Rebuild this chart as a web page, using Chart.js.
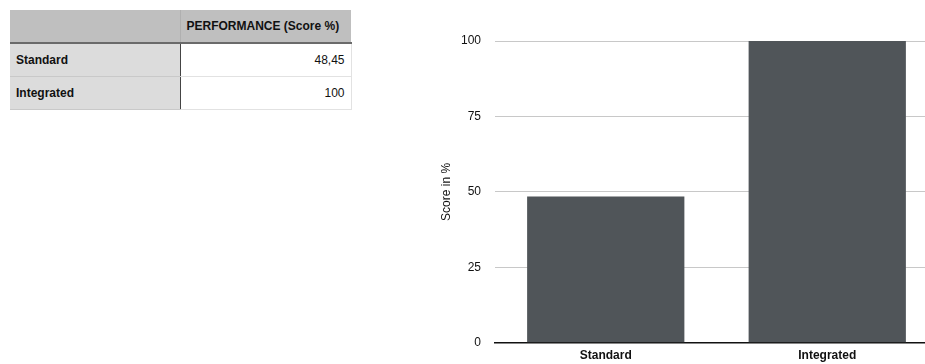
<!DOCTYPE html>
<html>
<head>
<meta charset="utf-8">
<script src="https://cdn.jsdelivr.net/npm/chart.js@4/dist/chart.umd.min.js"></script>
<style>
  html, body { margin: 0; padding: 0; width: 925px; height: 364px; overflow: hidden; background: #fff; }
  body { position: relative; font-family: "Liberation Sans", Arial, sans-serif; font-size: 12px; color: #111; }
  table { position: absolute; left: 10px; top: 10px; border-collapse: collapse; }
  td, th { padding: 0 6px; height: 33px; box-sizing: border-box; }
  th { background: #bfbfbf; font-weight: bold; text-align: left; vertical-align: middle; border-bottom: 2px solid #6a6a6a; }
  th.corner { width: 170px; border-right: 1px solid #b0b0b0; }
  th.head { width: 171px; }
  td.name { background: #dcdcdc; font-weight: bold; border-bottom: 1px solid #c9c9c9; border-right: 1px solid #444; }
  td.val { text-align: right; border-bottom: 1px solid #e2e2e2; border-right: 1px solid #e2e2e2; }
  #c { position: absolute; left: 435px; top: 0; width: 505px; height: 364px; }
</style>
</head>
<body>
<table id="tbl"></table>
<canvas id="c" width="505" height="364"></canvas>
<script>
const categories = ["Standard", "Integrated"];
const scores = [48.45, 100];
const yTicks = [0, 25, 50, 75, 100];
const valueHeader = "PERFORMANCE (Score %)";

// data table
const tbl = document.getElementById("tbl");
let html = '<tr><th class="corner"></th><th class="head">' + valueHeader + '</th></tr>';
categories.forEach((c, i) => {
  html += '<tr><td class="name">' + c + '</td><td class="val">' + String(scores[i]).replace('.', ',') + '</td></tr>';
});
tbl.innerHTML = html;

const font = "'Liberation Sans', Arial, sans-serif";
new Chart(document.getElementById("c"), {
  type: "bar",
  data: {
    labels: categories,
    datasets: [{
      data: scores,
      backgroundColor: "#505559",
      borderWidth: 0,
      barPercentage: 0.71,
      categoryPercentage: 1
    }]
  },
  options: {
    responsive: false,
    animation: false,
    layout: { padding: { top: 41, right: 2, left: 0, bottom: -2 } },
    plugins: { legend: { display: false }, tooltip: { enabled: false } },
    scales: {
      x: {
        grid: { display: false, drawTicks: false },
        border: { display: true, color: "#111", width: 1.5 },
        ticks: { color: "#111", font: { family: font, size: 12, weight: "bold" }, padding: 6 },
        afterFit: s => { s.height = 19.5; }
      },
      y: {
        min: 0, max: 100,
        afterBuildTicks: s => { s.ticks = yTicks.map(v => ({ value: v })); },
        grid: { color: "#c8c8c8", lineWidth: 1, drawTicks: false },
        border: { display: false },
        ticks: { color: "#111", font: { family: font, size: 12 }, padding: 14 },
        title: { display: true, text: "Score in %", color: "#111", font: { family: font, size: 12 }, padding: { top: 4, bottom: 0 } },
        afterFit: s => { s.width = 60; }
      }
    }
  }
});
</script>
</body>
</html>
